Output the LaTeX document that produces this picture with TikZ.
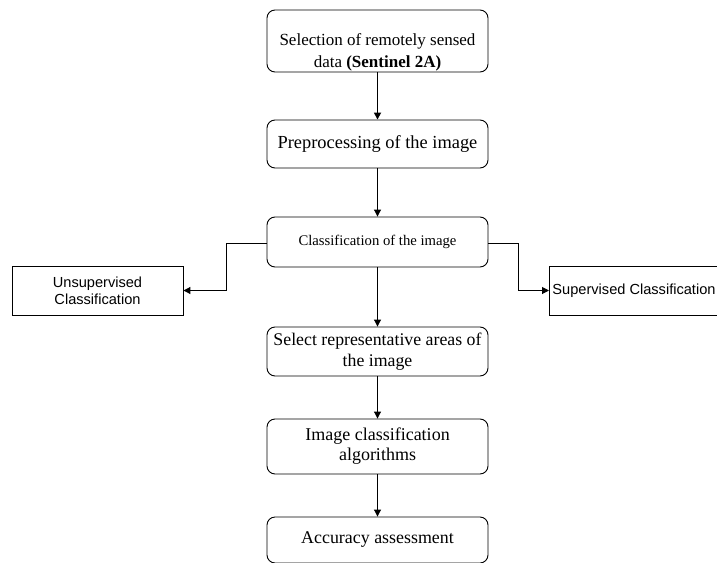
\documentclass[tikz,border=0pt]{standalone}
\usepackage{fontspec}
\setmainfont{Liberation Serif}
\newfontfamily\arialfont{Liberation Sans}
\usetikzlibrary{arrows.meta}
\begin{document}
\begin{tikzpicture}[x=1pt,y=-1pt,
  mainbox/.style={draw, rounded corners=8pt, line width=0.9pt, minimum width=221pt, align=center, inner sep=2pt},
  plaintext/.style={align=center, inner sep=0pt},
  sidebox/.style={draw, line width=0.9pt, align=center, inner sep=3pt, font=\arialfont\fontsize{14.6}{17}\selectfont},
  conn/.style={line width=1pt, -{Triangle[width=7pt,length=7pt]}}]
\useasboundingbox (0,0) rectangle (717,562);
\clip (0,0) rectangle (717,562);
\node[mainbox, minimum height=62pt] (sel) at (377.5,41) {};
\node[plaintext, font=\fontsize{17}{22}\selectfont] (selt) at (377.5,52) {Selection of remotely sensed\\ data \textbf{(Sentinel 2A)}};
\node[mainbox, minimum height=48pt, font=\fontsize{18.4}{21}\selectfont] (pre) at (377.5,144) {Preprocessing of the image};
\node[mainbox, minimum height=50pt, font=\fontsize{14.7}{17}\selectfont] (cls) at (377.5,242) {Classification of the image};
\node[mainbox, minimum height=49pt, font=\fontsize{17.8}{21}\selectfont] (rep) at (377.5,351.5) {Select representative areas of\\ the image};
\node[mainbox, minimum height=55pt, font=\fontsize{18}{20}\selectfont] (alg) at (377.5,446.5) {Image classification\\ algorithms};
\node[mainbox, minimum height=46pt, font=\fontsize{17.9}{20}\selectfont] (acc) at (377.5,540) {Accuracy assessment};
\node[sidebox, minimum width=171pt, minimum height=49pt] (uns) at (97.5,290.5) {Unsupervised\\ Classification};
\node[sidebox, minimum height=49pt, anchor=west] (sup) at (549,290.5) {Supervised Classification};
\draw[conn, line width=1.6pt] (sel) -- (pre);
\draw[conn] (pre) -- (cls);
\draw[conn] (cls) -- (rep);
\draw[conn] (rep) -- (alg);
\draw[conn] (alg) -- (acc);
\draw[conn] (cls.west |- 0,243) -| (226,290.5) -- (uns.east);
\draw[conn] (cls.east |- 0,243) -| (518,290.5) -- (sup.west);
\end{tikzpicture}
\end{document}
